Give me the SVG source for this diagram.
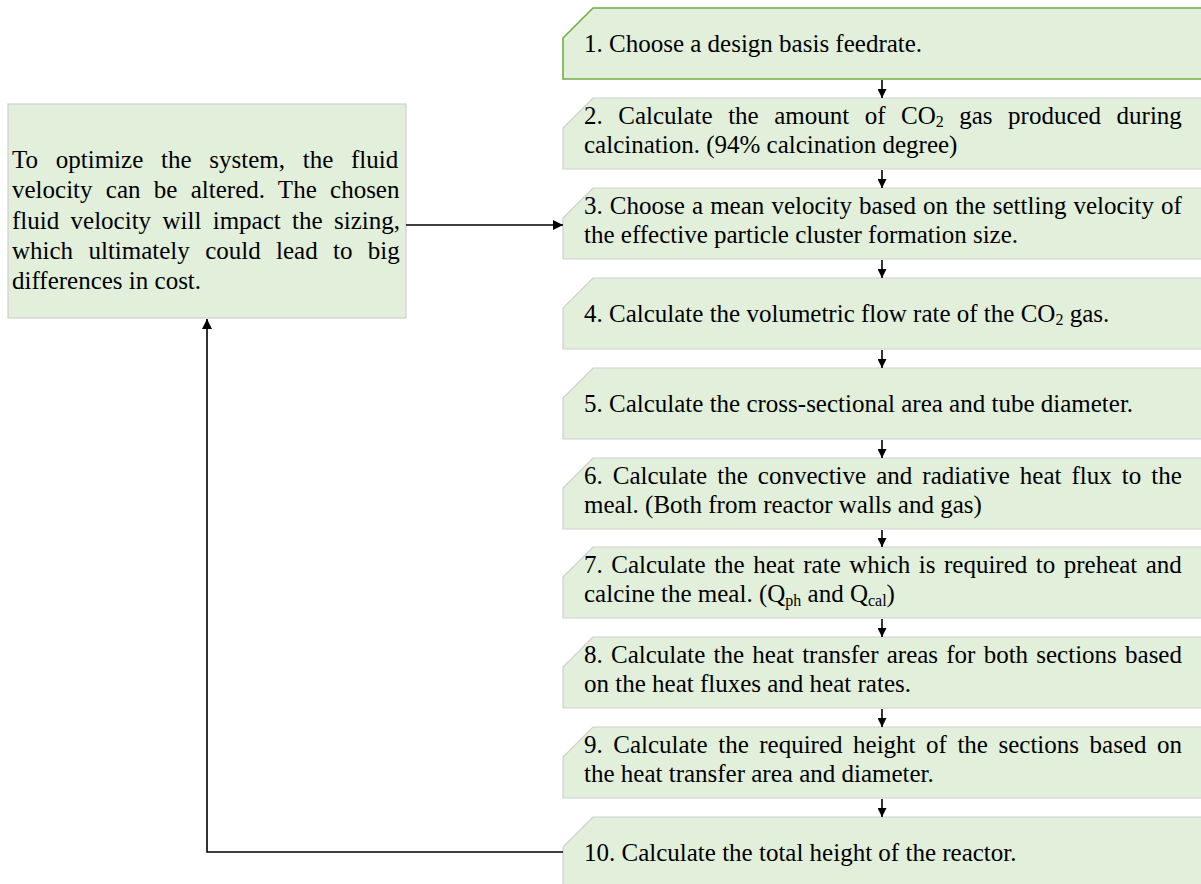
<svg xmlns="http://www.w3.org/2000/svg" width="1201" height="884" viewBox="0 0 1201 884">
<style>
.box{fill:#E2EFDA;stroke:#CFCFCF;stroke-width:1.2}
.first{stroke:#70AD47;stroke-width:1.6}
.t{font-family:"Liberation Serif","Times New Roman",serif;font-size:25px;fill:#000}
.sub{font-size:16px}
.con{fill:none;stroke:#000;stroke-width:1.6}
</style>
<defs>
<marker id="ah" markerUnits="userSpaceOnUse" markerWidth="12" markerHeight="10" refX="10" refY="5" orient="auto">
<path d="M0,0 L10,5 L0,10 Z" fill="#000"/>
</marker>
<marker id="ahs" markerUnits="userSpaceOnUse" markerWidth="10" markerHeight="9" refX="9" refY="4.5" orient="auto">
<path d="M0,0 L9,4.5 L0,9 Z" fill="#000"/>
</marker>
</defs>
<rect width="1201" height="884" fill="#fff"/>

<g id="note">
<rect class="box" x="8" y="104" width="398" height="214"/>
<text class="t" x="12" y="168" word-spacing="11.5">To optimize the system, the fluid</text>
<text class="t" x="12" y="198" word-spacing="7.06">velocity can be altered. The chosen</text>
<text class="t" x="12" y="229" word-spacing="5.1">fluid velocity will impact the sizing,</text>
<text class="t" x="12" y="259" word-spacing="9.1">which ultimately could lead to big</text>
<text class="t" x="12" y="289">differences in cost.</text>
</g>

<g id="step1">
<polygon class="box first" points="593,8 1212,8 1212,79 563,79 563,38"/>
<text class="t" x="584" y="52">1. Choose a design basis feedrate.</text>
</g>
<g id="step2">
<polygon class="box" points="593,98 1212,98 1212,169 563,169 563,128"/>
<text class="t" x="584" y="124" word-spacing="9.25">2. Calculate the amount of CO<tspan class="sub" dy="3">2</tspan><tspan dy="-3"> gas produced during</tspan></text>
<text class="t" x="584" y="153">calcination. (94% calcination degree)</text>
</g>
<g id="step3">
<polygon class="box" points="593,188 1212,188 1212,259 563,259 563,218"/>
<text class="t" x="584" y="214" word-spacing="0.85">3. Choose a mean velocity based on the settling velocity of</text>
<text class="t" x="584" y="243">the effective particle cluster formation size.</text>
</g>
<g id="step4">
<polygon class="box" points="593,278 1212,278 1212,349 563,349 563,308"/>
<text class="t" x="584" y="322">4. Calculate the volumetric flow rate of the CO<tspan class="sub" dy="3">2</tspan><tspan dy="-3"> gas.</tspan></text>
</g>
<g id="step5">
<polygon class="box" points="593,368 1212,368 1212,439 563,439 563,398"/>
<text class="t" x="584" y="412">5. Calculate the cross-sectional area and tube diameter.</text>
</g>
<g id="step6">
<polygon class="box" points="593,458 1212,458 1212,529 563,529 563,488"/>
<text class="t" x="584" y="484" word-spacing="3.8">6. Calculate the convective and radiative heat flux to the</text>
<text class="t" x="584" y="513">meal. (Both from reactor walls and gas)</text>
</g>
<g id="step7">
<polygon class="box" points="593,547 1212,547 1212,618 563,618 563,577"/>
<text class="t" x="584" y="573" word-spacing="2.24">7. Calculate the heat rate which is required to preheat and</text>
<text class="t" x="584" y="602">calcine the meal. (Q<tspan class="sub" dy="4">ph</tspan><tspan dy="-4"> and Q</tspan><tspan class="sub" dy="4">cal</tspan><tspan dy="-4">)</tspan></text>
</g>
<g id="step8">
<polygon class="box" points="593,637 1212,637 1212,708 563,708 563,667"/>
<text class="t" x="584" y="663" word-spacing="1.96">8. Calculate the heat transfer areas for both sections based</text>
<text class="t" x="584" y="692">on the heat fluxes and heat rates.</text>
</g>
<g id="step9">
<polygon class="box" points="593,727 1212,727 1212,798 563,798 563,757"/>
<text class="t" x="584" y="753" word-spacing="4.27">9. Calculate the required height of the sections based on</text>
<text class="t" x="584" y="782">the heat transfer area and diameter.</text>
</g>
<g id="step10">
<polygon class="box" points="593,817 1212,817 1212,890 563,890 563,847"/>
<text class="t" x="584" y="861">10. Calculate the total height of the reactor.</text>
</g>

<g id="connectors">
<line class="con" x1="882" y1="80" x2="882" y2="98" marker-end="url(#ahs)"/>
<line class="con" x1="882" y1="170" x2="882" y2="188" marker-end="url(#ahs)"/>
<line class="con" x1="882" y1="260" x2="882" y2="278" marker-end="url(#ahs)"/>
<line class="con" x1="882" y1="350" x2="882" y2="368" marker-end="url(#ahs)"/>
<line class="con" x1="882" y1="440" x2="882" y2="458" marker-end="url(#ahs)"/>
<line class="con" x1="882" y1="530" x2="882" y2="547" marker-end="url(#ahs)"/>
<line class="con" x1="882" y1="619" x2="882" y2="637" marker-end="url(#ahs)"/>
<line class="con" x1="882" y1="709" x2="882" y2="727" marker-end="url(#ahs)"/>
<line class="con" x1="882" y1="799" x2="882" y2="817" marker-end="url(#ahs)"/>
<line class="con" x1="406" y1="225" x2="563" y2="225" marker-end="url(#ah)"/>
<polyline class="con" points="563,852 207,852 207,319" marker-end="url(#ah)"/>
</g>
</svg>
